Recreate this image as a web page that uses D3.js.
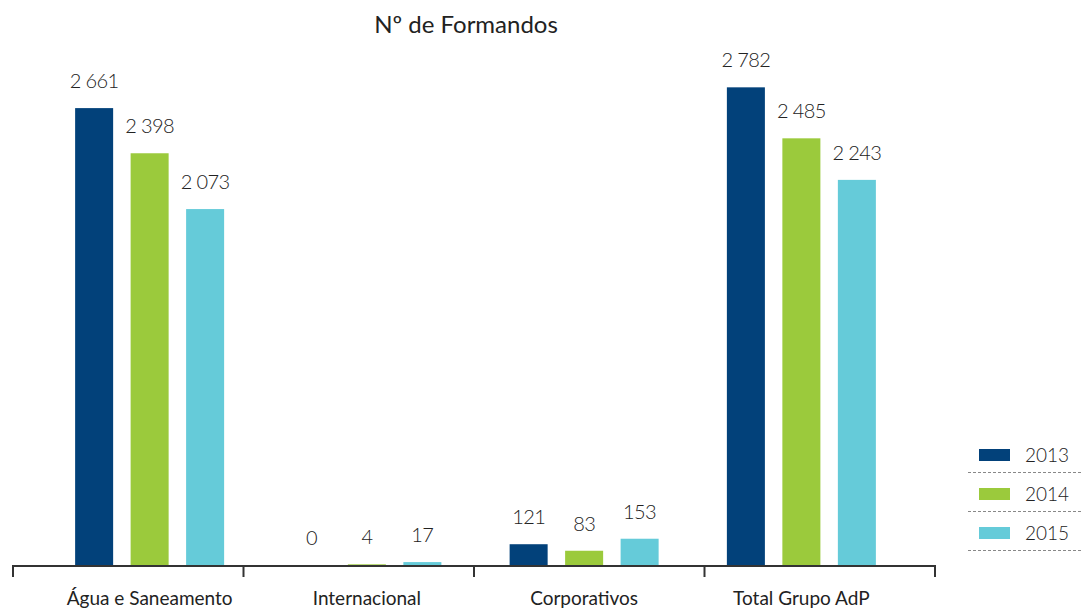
<!DOCTYPE html>
<html>
<head>
<meta charset="utf-8">
<script src="https://cdn.jsdelivr.net/npm/d3@7/dist/d3.min.js"></script>
<style>
  html, body { margin: 0; padding: 0; background: #fff; }
  svg { display: block; font-family: Lato, "Open Sans", sans-serif; }
</style>
</head>
<body>
<svg id="chart" width="1085" height="609"></svg>
<script>
// Training participants (Nº de Formandos) by business area and year
const categories = ["Água e Saneamento", "Internacional", "Corporativos", "Total Grupo AdP"];
const years = ["2013", "2014", "2015"];
const values2013 = [2661, 0, 121, 2782];
const values2014 = [2398, 4, 83, 2485];
const values2015 = [2073, 17, 153, 2243];
const colors = ["#02417a", "#9bca3c", "#65cbd9"];

const seriesValues = [values2013, values2014, values2015];
const rows = categories.map((c, i) => ({
  category: c,
  values: years.map((y, k) => ({ year: y, value: seriesValues[k][i], k }))
}));

const svg = d3.select("#chart");
const baseY = 565;
const textColor = "#222";
const fmt = v => d3.format(",")(v).replace(/,/g, " ");

// Vertical value scale
const y = d3.scaleLinear().domain([0, 3000]).range([baseY, baseY - 3000 * 0.1717]);

// Group scale for bars and category labels
const x0 = d3.scaleBand().domain(categories).range([41, 910]).paddingInner(0).paddingOuter(0);
const half = x0.bandwidth() / 2;
const x1 = d3.scaleBand().domain(years).range([half - 74.5, half + 74.5]).paddingInner(0.315).paddingOuter(0);

// Boundary scale for the axis tick marks
const xTick = d3.scaleLinear().domain([0, categories.length]).range([13, 935]);

// Title
svg.append("text")
  .attr("x", 466).attr("y", 33)
  .attr("text-anchor", "middle")
  .attr("font-size", 24)
  .attr("fill", textColor)
  .text("Nº de Formandos");

// Bars
const groups = svg.append("g").selectAll("g")
  .data(rows).join("g")
  .attr("transform", d => `translate(${x0(d.category)},0)`);

groups.selectAll("rect")
  .data(d => d.values).join("rect")
  .attr("x", d => x1(d.year))
  .attr("y", d => y(d.value))
  .attr("width", x1.bandwidth())
  .attr("height", d => baseY - y(d.value))
  .attr("fill", d => colors[d.k]);

// Value labels
groups.selectAll("text")
  .data(d => d.values).join("text")
  .attr("x", d => x1(d.year) + x1.bandwidth() / 2)
  .attr("y", d => y(d.value) - 20)
  .attr("text-anchor", "middle")
  .attr("font-size", 20)
  .attr("font-weight", 300)
  .attr("letter-spacing", -0.6)
  .attr("fill", textColor)
  .text(d => fmt(d.value));

// Axis line and boundary ticks
const axis = svg.append("g");
axis.append("line")
  .attr("x1", xTick(0)).attr("x2", xTick(categories.length))
  .attr("y1", baseY + 1).attr("y2", baseY + 1)
  .attr("stroke", "#333").attr("stroke-width", 2);
axis.selectAll("line.tick")
  .data(d3.range(categories.length + 1)).join("line")
  .attr("class", "tick")
  .attr("x1", d => xTick(d)).attr("x2", d => xTick(d))
  .attr("y1", baseY).attr("y2", baseY + 12)
  .attr("stroke", "#333").attr("stroke-width", 2);

// Category labels
svg.append("g").selectAll("text")
  .data(categories).join("text")
  .attr("x", d => x0(d) + half)
  .attr("y", 605)
  .attr("text-anchor", "middle")
  .attr("font-size", 19)
  .attr("fill", textColor)
  .text(d => d);

// Legend
const legend = svg.append("g").attr("transform", "translate(968,449)");
const legendStep = 39;
const items = legend.selectAll("g").data(years).join("g")
  .attr("transform", (d, i) => `translate(0,${i * legendStep})`);
items.append("rect")
  .attr("x", 11).attr("y", 0).attr("width", 31).attr("height", 12)
  .attr("fill", (d, i) => colors[i]);
items.append("text")
  .attr("x", 57).attr("y", 13)
  .attr("font-size", 19)
  .attr("font-weight", 300)
  .attr("fill", textColor)
  .text(d => d);
items.append("line")
  .attr("x1", 0).attr("x2", 115)
  .attr("y1", 23.5).attr("y2", 23.5)
  .attr("stroke", "#888").attr("stroke-width", 1)
  .attr("stroke-dasharray", "3,2");
</script>
</body>
</html>
